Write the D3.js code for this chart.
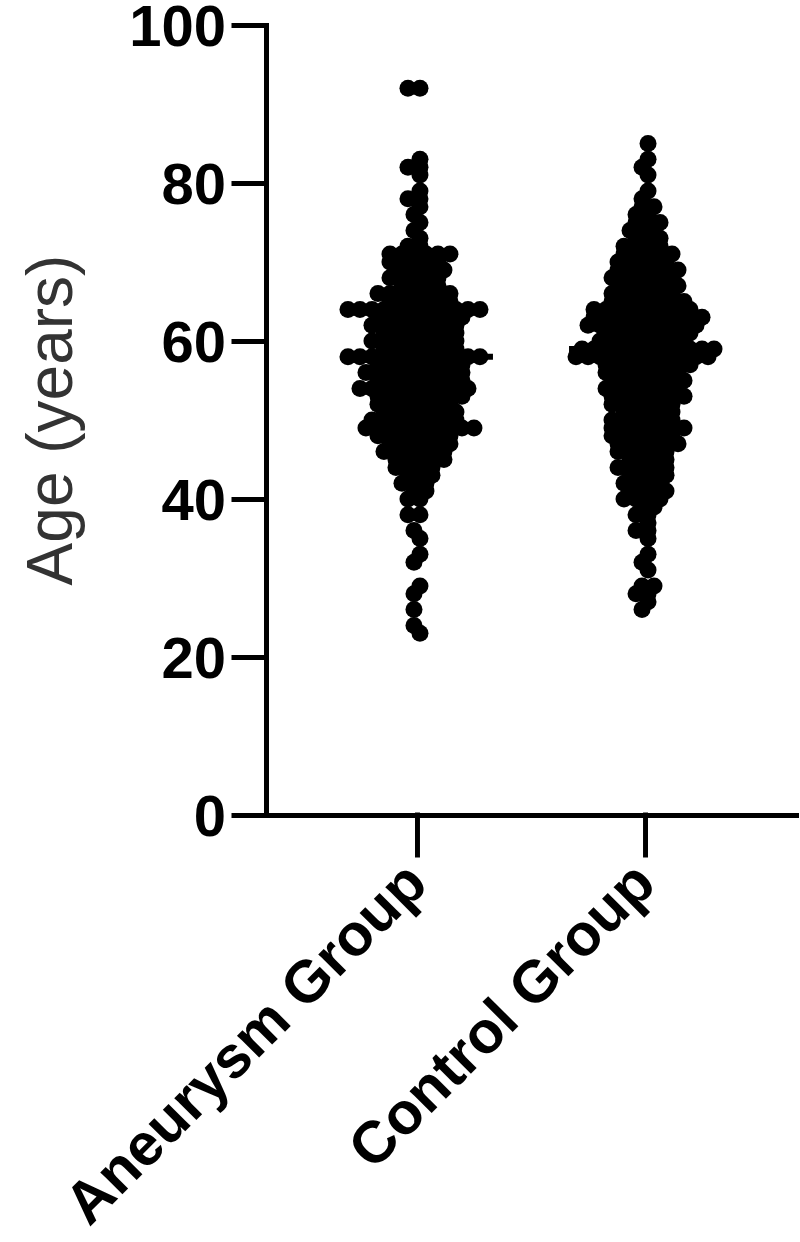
<!DOCTYPE html>
<html>
<head>
<meta charset="utf-8">
<script src="https://cdn.jsdelivr.net/npm/d3@7"></script>
<style>
  body { margin: 0; background: #fff; }
  svg { display: block; }
</style>
</head>
<body>
<svg id="chart" width="800" height="1242"></svg>
<script>
// groups and axis
const groups = ["Aneurysm Group", "Control Group"];
const yTicks = [0, 20, 40, 60, 80, 100];
const medians = [58, 59];

// ages, with how many dots sit at each age
const aneurysmAges   = [92, 83, 82, 81, 79, 78, 77, 76, 75, 74, 73, 72, 71, 70, 69, 68, 67, 66, 65, 64, 63, 62, 61, 60, 59, 58, 57, 56, 55, 54, 53, 52, 51, 50, 49, 48, 47, 46, 45, 44, 43, 42, 41, 40, 38, 36, 35, 33, 32, 29, 28, 26, 24, 23];
const aneurysmCounts = [ 2,  1,  2,  1,  1,  2,  1,  1,  1,  1,  1,  2,  6,  5,  5,  5,  4,  7,  6, 12,  8,  8,  7,  8,  7, 12,  8,  9,  8, 10,  8,  7,  7,  8, 10,  7,  6,  6,  5,  4,  3,  3,  2,  2,  2,  1,  1,  1,  1,  1,  1,  1,  1,  1];

const controlAges   = [85, 83, 82, 81, 79, 78, 77, 76, 75, 74, 73, 72, 71, 70, 69, 68, 67, 66, 65, 64, 63, 62, 61, 60, 59, 58, 57, 56, 55, 54, 53, 52, 51, 50, 49, 48, 47, 46, 45, 44, 43, 42, 41, 40, 39, 38, 37, 36, 35, 33, 32, 31, 29, 28, 27, 26];
const controlCounts = [ 1,  1,  1,  1,  1,  1,  2,  2,  3,  3,  3,  4,  5,  5,  6,  6,  6,  6,  7,  9, 10, 10,  8,  8, 12, 12,  8,  7,  7,  7,  7,  6,  5,  6,  7,  6,  6,  5,  4,  5,  4,  4,  4,  4,  2,  2,  1,  2,  1,  1,  1,  1,  2,  2,  1,  1];

const width = 800, height = 1242;
const r = 8.5, step = 12;

const svg = d3.select("#chart");

const y = d3.scaleLinear()
  .domain([0, 100])
  .range([815, 25]);

const x = d3.scalePoint()
  .domain(groups)
  .range([266, 796])
  .padding(0.662);

// same ages side by side, odd and even ages nudged apart a little
function rows(ages, counts, group) {
  const pts = [];
  ages.forEach((a, i) => {
    const n = counts[i];
    const shift = (a % 2 ? 1 : -1) * step / 4;
    for (let k = 0; k < n; k++) {
      pts.push({group, age: a, off: (k - (n - 1) / 2) * step + shift});
    }
  });
  return pts;
}

const points = rows(aneurysmAges, aneurysmCounts, groups[0])
  .concat(rows(controlAges, controlCounts, groups[1]));

svg.append("g")
  .selectAll("circle")
  .data(points)
  .join("circle")
    .attr("cx", d => x(d.group) + d.off)
    .attr("cy", d => y(d.age))
    .attr("r", r)
    .attr("fill", "#000");

// median lines
svg.append("g")
  .selectAll("line")
  .data(groups)
  .join("line")
    .attr("x1", d => x(d) - 76)
    .attr("x2", d => x(d) + 76)
    .attr("y1", (d, i) => y(medians[i]))
    .attr("y2", (d, i) => y(medians[i]))
    .attr("stroke", "#000")
    .attr("stroke-width", 6);

function styleAxis(g) {
  g.selectAll(".domain, .tick line")
    .attr("stroke", "#000")
    .attr("stroke-width", 5)
    .attr("stroke-linecap", "square");
  g.selectAll("text")
    .attr("fill", "#000")
    .attr("font-family", "'Liberation Sans', Arial, sans-serif")
    .attr("font-weight", "bold");
}

svg.append("g")
  .attr("transform", "translate(266,0)")
  .call(d3.axisLeft(y).tickValues(yTicks).tickSize(32).tickSizeOuter(0).tickPadding(8))
  .call(styleAxis)
  .call(g => g.selectAll("text").attr("font-size", 58).attr("dy", "0.36em"));

svg.append("g")
  .attr("transform", "translate(0,815)")
  .call(d3.axisBottom(x).tickSize(40).tickSizeOuter(0))
  .call(styleAxis)
  .call(g => g.selectAll("text")
    .attr("font-size", 59)
    .attr("text-anchor", "end")
    .attr("x", 0).attr("y", 0).attr("dy", "0.35em")
    .attr("transform", "translate(-2,57) rotate(-45)"));

svg.append("text")
  .attr("transform", `translate(72,${y(50)}) rotate(-90)`)
  .attr("text-anchor", "middle")
  .attr("font-family", "'Liberation Sans', Arial, sans-serif")
  .attr("font-size", 64)
  .attr("fill", "#333")
  .text("Age (years)");
</script>
</body>
</html>
